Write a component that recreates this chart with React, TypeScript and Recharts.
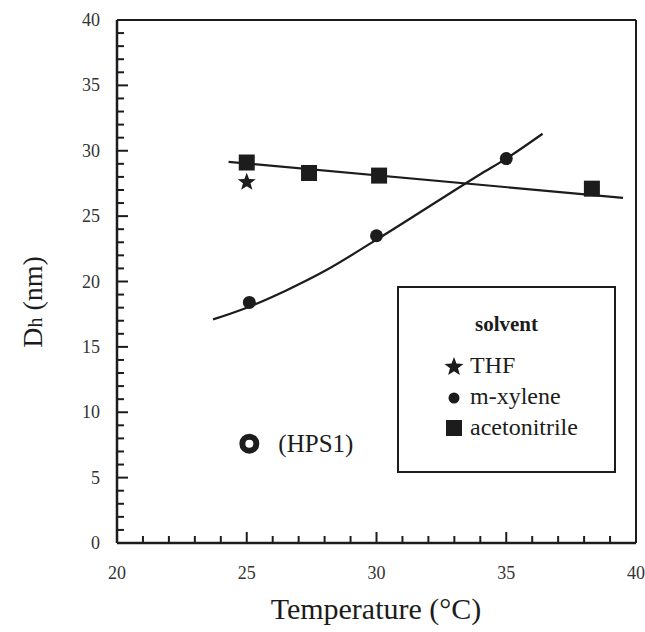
import { ComposedChart, Line, Scatter, XAxis, YAxis, ReferenceLine } from 'recharts'

const xTicks = [20, 21, 22, 23, 24, 25, 26, 27, 28, 29, 30, 31, 32, 33, 34, 35, 36, 37, 38, 39, 40]
const yTicks = [0, 1, 2, 3, 4, 5, 6, 7, 8, 9, 10, 11, 12, 13, 14, 15, 16, 17, 18, 19, 20, 21, 22, 23, 24, 25, 26, 27, 28, 29, 30, 31, 32, 33, 34, 35, 36, 37, 38, 39, 40]

const acetoT = [25.0, 27.4, 30.1, 38.3]
const acetoDh = [29.1, 28.3, 28.1, 27.1]
const xyleneT = [25.1, 30.0, 35.0]
const xyleneDh = [18.4, 23.5, 29.4]
const thfT = [25.0]
const thfDh = [27.6]
const hpsT = [25.1]
const hpsDh = [7.6]

const acetoFitT = [24.3, 39.5]
const acetoFitDh = [29.15, 26.4]
const xyleneFitT = [23.7, 25, 26.5, 28, 30, 32, 34, 35, 36.4]
const xyleneFitDh = [17.1, 18.0, 19.3, 20.8, 23.2, 25.7, 28.2, 29.4, 31.3]

const zip = (xs: number[], ys: number[]) => xs.map((x, i) => ({ x, y: ys[i] }))

const ink = '#1c1c1c'
const serif = "'Liberation Serif', 'Times New Roman', Times, serif"

const starPath = (cx: number, cy: number, R: number, r: number) => {
  const pts: string[] = []
  for (let i = 0; i < 10; i++) {
    const rad = i % 2 === 0 ? R : r
    const a = -Math.PI / 2 + (i * Math.PI) / 5
    pts.push(`${(cx + rad * Math.cos(a)).toFixed(2)},${(cy + rad * Math.sin(a)).toFixed(2)}`)
  }
  return 'M' + pts.join('L') + 'Z'
}

const txt = { fontFamily: serif } as const

const Square = ({ cx, cy }: any) => <rect x={cx - 8} y={cy - 8} width={16} height={16} fill={ink} />
const Dot = ({ cx, cy }: any) => <circle cx={cx} cy={cy} r={6.5} fill={ink} />
const Star = ({ cx, cy }: any) => <path d={starPath(cx, cy, 9.5, 4)} fill={ink} />
const Ring = ({ cx, cy }: any) => (
  <g>
    <circle cx={cx} cy={cy} r={7} fill="none" stroke={ink} strokeWidth={6} />
    <text x={cx + 29} y={cy} dominantBaseline="central" style={txt} fontSize={25} fill={ink}>(HPS1)</text>
  </g>
)

function YTick({ x, y, payload }: any) {
  const major = payload.value % 5 === 0
  return (
    <g>
      <line x1={x} x2={x + (major ? 11 : 7)} y1={y} y2={y} stroke={ink} strokeWidth={2} />
      {major && <text x={x - 17} y={y} textAnchor="end" dominantBaseline="central" style={txt} fontSize={18} fill="#333">{payload.value}</text>}
    </g>
  )
}

function XTick({ x, y, payload }: any) {
  const major = payload.value % 5 === 0
  return (
    <g>
      <line x1={x} x2={x} y1={y} y2={y - (major ? 11 : 7)} stroke={ink} strokeWidth={2} />
      {major && <text x={x} y={y + 30} textAnchor="middle" dominantBaseline="central" style={txt} fontSize={18} fill="#333">{payload.value}</text>}
    </g>
  )
}

function LegendBox() {
  const row = { display: 'flex', alignItems: 'center', height: 31, fontSize: 24 } as const
  const mark = { width: 22, display: 'flex', justifyContent: 'center', marginRight: 5 } as const
  return (
    <div style={{ position: 'absolute', left: 397, top: 286, width: 215, height: 183, border: `2px solid ${ink}`, fontFamily: serif, color: ink, boxSizing: 'content-box' }}>
      <div style={{ textAlign: 'center', fontWeight: 700, fontSize: 21, marginTop: 24, marginBottom: 13 }}>solvent</div>
      <div style={{ paddingLeft: 44 }}>
        <div style={row}>
          <span style={mark}><svg width={20} height={20}><path d={starPath(10, 11, 10, 4.2)} fill={ink} /></svg></span>THF
        </div>
        <div style={row}>
          <span style={mark}><svg width={14} height={14}><circle cx={7} cy={8} r={5.5} fill={ink} /></svg></span>m-xylene
        </div>
        <div style={row}>
          <span style={mark}><svg width={18} height={18}><rect x={1} y={1} width={16} height={16} fill={ink} /></svg></span>acetonitrile
        </div>
      </div>
    </div>
  )
}

export default function App() {
  return (
    <div style={{ position: 'absolute', left: 0, top: 0, width: 645, height: 632, background: '#fff', fontFamily: serif }}>
      <ComposedChart width={645} height={632} margin={{ top: 20, right: 9, bottom: 39, left: 57 }} style={txt}>
        <XAxis type="number" dataKey="x" domain={[20, 40]} ticks={xTicks} interval={0} tick={<XTick />} tickSize={0} tickMargin={0} tickLine={false} height={50} axisLine={{ stroke: ink, strokeWidth: 2.5 }} allowDataOverflow />
        <YAxis type="number" dataKey="y" domain={[0, 40]} ticks={yTicks} interval={0} tick={<YTick />} tickSize={0} tickMargin={0} tickLine={false} width={60} axisLine={{ stroke: ink, strokeWidth: 2.5 }} allowDataOverflow />
        <ReferenceLine y={40} stroke={ink} strokeWidth={2} />
        <ReferenceLine x={40} stroke={ink} strokeWidth={2} />
        <Line data={zip(acetoFitT, acetoFitDh)} dataKey="y" type="linear" stroke={ink} strokeWidth={2.2} dot={false} activeDot={false} isAnimationActive={false} />
        <Line data={zip(xyleneFitT, xyleneFitDh)} dataKey="y" type="monotone" stroke={ink} strokeWidth={2.2} dot={false} activeDot={false} isAnimationActive={false} />
        <Scatter data={zip(acetoT, acetoDh)} dataKey="y" shape={<Square />} isAnimationActive={false} />
        <Scatter data={zip(xyleneT, xyleneDh)} dataKey="y" shape={<Dot />} isAnimationActive={false} />
        <Scatter data={zip(thfT, thfDh)} dataKey="y" shape={<Star />} isAnimationActive={false} />
        <Scatter data={zip(hpsT, hpsDh)} dataKey="y" shape={<Ring />} isAnimationActive={false} />
        <text x={376} y={608} textAnchor="middle" dominantBaseline="central" style={txt} fontSize={30} fill={ink}>Temperature (°C)</text>
        <text x={32} y={302} transform="rotate(-90 32 302)" textAnchor="middle" dominantBaseline="central" style={txt} fontSize={28} fill={ink}>
          D<tspan fontSize={20} dy={3}>h</tspan><tspan dy={-3}> (nm)</tspan>
        </text>
      </ComposedChart>
      <LegendBox />
    </div>
  )
}
